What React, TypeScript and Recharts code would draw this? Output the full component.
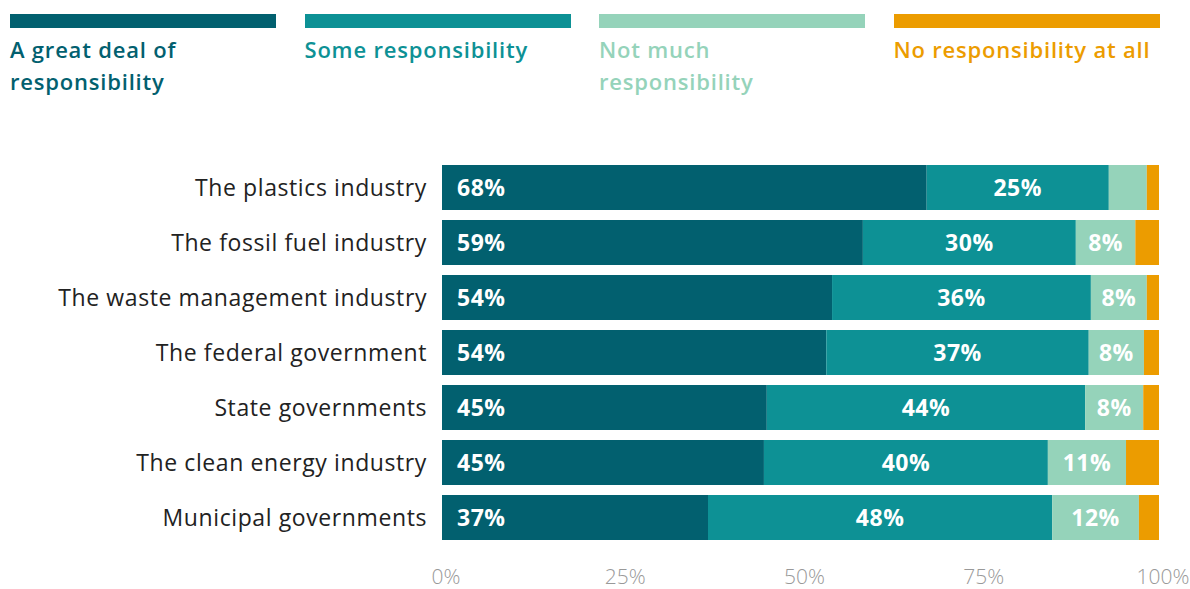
import React from 'react';
import { BarChart, Bar, XAxis, YAxis, LabelList } from 'recharts';

const categories = [
  'The plastics industry',
  'The fossil fuel industry',
  'The waste management industry',
  'The federal government',
  'State governments',
  'The clean energy industry',
  'Municipal governments',
];

const greatDeal = [67.6, 58.7, 54.4, 53.6, 45.3, 44.9, 37.1];
const some = [25.4, 29.7, 36.1, 36.6, 44.4, 39.6, 48.0];
const notMuch = [5.3, 8.3, 7.8, 7.7, 8.1, 10.9, 12.1];
const none = [1.7, 3.3, 1.7, 2.1, 2.2, 4.6, 2.8];

const xTicks = [0, 25, 50, 75, 100];

const series = [
  { key: 'greatDeal', name: 'A great deal of responsibility', color: '#02606F', values: greatDeal },
  { key: 'some', name: 'Some responsibility', color: '#0D9195', values: some },
  { key: 'notMuch', name: 'Not much responsibility', color: '#95D3BA', values: notMuch },
  { key: 'none', name: 'No responsibility at all', color: '#EC9C00', values: none },
];

const legendLines: Record<string, string[]> = {
  greatDeal: ['A great deal of', 'responsibility'],
  some: ['Some responsibility'],
  notMuch: ['Not much', 'responsibility'],
  none: ['No responsibility at all'],
};

const data = categories.map((name, i) => ({
  name,
  greatDeal: greatDeal[i],
  some: some[i],
  notMuch: notMuch[i],
  none: none[i],
}));

const FONT = '"Open Sans", Lato, sans-serif';

// value label inside a segment; small segments get none
const makeLabel = (align: 'left' | 'center') => (props: any) => {
  const { x, y, width, height, value } = props;
  if (value < 6) return null;
  const tx = align === 'left' ? x + 15 : x + width / 2;
  return (
    <text
      x={tx}
      y={y + height / 2}
      dy="0.36em"
      textAnchor={align === 'left' ? 'start' : 'middle'}
      fill="#fff"
      fontFamily={FONT}
      fontWeight={700}
      fontSize={23}
      letterSpacing={0.5}
    >
      {Math.round(value)}%
    </text>
  );
};

export default function App() {
  return (
    <div style={{ position: 'absolute', left: 0, top: 0, width: 1190, height: 589, background: '#fff' }}>
      {/* legend */}
      {series.map((s, i) => (
        <div key={s.key} style={{ position: 'absolute', left: 10 + i * 294.5, top: 14, width: 266 }}>
          <div style={{ height: 14, background: s.color }} />
          <div style={{ marginTop: 5, color: s.color, fontFamily: FONT, fontWeight: 600, fontSize: 22, letterSpacing: 0.8, lineHeight: '32px', whiteSpace: 'nowrap' }}>
            {legendLines[s.key].map(l => <div key={l}>{l}</div>)}
          </div>
        </div>
      ))}

      <BarChart
        width={1190}
        height={589}
        data={data}
        layout="vertical"
        margin={{ top: 160, right: 31, bottom: 0, left: 0 }}
        style={{ position: 'absolute', left: 0, top: 0 }}
      >
        <XAxis
          type="number"
          domain={[0, 100]}
          ticks={xTicks}
          tickFormatter={v => `${v}%`}
          axisLine={false}
          tickLine={false}
          tickSize={0}
          tickMargin={24}
          height={44}
          interval={0}
          tick={{ fill: '#999', fontSize: 21, fontFamily: FONT, fontWeight: 300, dx: 4 }}
        />
        <YAxis
          type="category"
          dataKey="name"
          width={442}
          axisLine={false}
          tickLine={false}
          tickSize={0}
          tickMargin={15}
          interval={0}
          tick={{ fill: '#222', fontSize: 23, fontFamily: FONT, letterSpacing: 0.6 }}
        />
        {series.map((s, i) => (
          <Bar
            key={s.key}
            dataKey={s.key}
            name={s.name}
            stackId="a"
            fill={s.color}
            barSize={45}
            isAnimationActive={false}
          >
            {i < 3 && <LabelList dataKey={s.key} content={makeLabel(i === 0 ? 'left' : 'center')} />}
          </Bar>
        ))}
      </BarChart>
    </div>
  );
}
